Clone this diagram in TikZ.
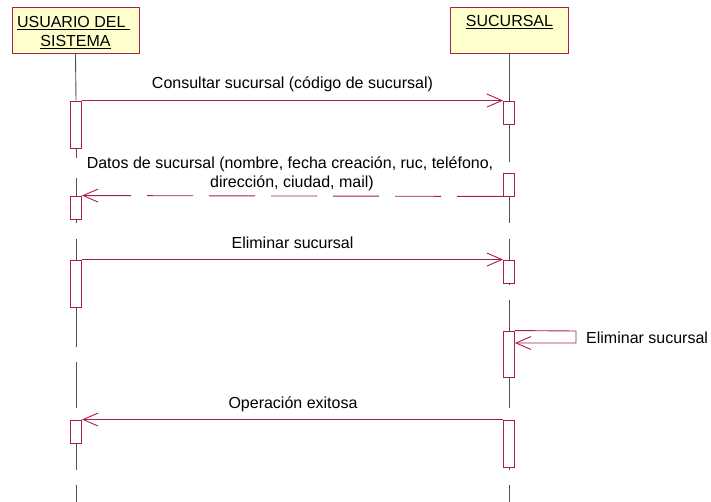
\documentclass[tikz,border=0pt]{standalone}
\usepackage{fontspec}
\setmainfont{Liberation Sans}
\usetikzlibrary{arrows.meta}
\definecolor{umlline}{RGB}{168,32,72}
\definecolor{umlbox}{RGB}{255,255,204}
\definecolor{lifegray}{RGB}{80,80,80}
\begin{document}
\begin{tikzpicture}[x=1pt,y=-1pt,
  every node/.style={font=\fontsize{16}{18.5}\selectfont},
  objbox/.style={draw=umlline, fill=umlbox, line width=0.9pt, inner sep=0pt, minimum height=46pt},
  act/.style={draw=umlline, fill=white, line width=0.9pt, inner sep=0pt, minimum width=11pt},
  msg/.style={draw=umlline, line width=0.9pt, -{Straight Barb[length=15pt,width=13pt]}},
  reply/.style={msg, dash pattern=on 46pt off 16pt},
  life/.style={draw=lifegray, line width=0.9pt},
  lbl/.style={anchor=base, inner sep=0pt, text=black}]
\useasboundingbox (0,0) rectangle (711,502);

% object heads
\node[objbox, minimum width=127pt] (u) at (75.5,30) {};
\node[objbox, minimum width=118pt] (s) at (509,30) {};
\node[lbl] (ut1) at (73.5,28) {\underline{USUARIO DEL\ }};
\node[lbl] (ut2) at (75.5,46.7) {\underline{SISTEMA}};
\node[lbl] (st) at (509.5,27) {\underline{SUCURSAL}};

% activation bars
\node[act, minimum height=47pt] (a1) at (76,124.5) {};
\node[act, minimum height=23pt] (a2) at (76,207.5) {};
\node[act, minimum height=47pt] (a3) at (76,283.5) {};
\node[act, minimum height=23pt] (a4) at (76,431.5) {};
\node[act, minimum height=23pt] (b1) at (509,112.5) {};
\node[act, minimum height=23pt] (b2) at (509,184.5) {};
\node[act, minimum height=23pt] (b3) at (509,271.5) {};
\node[act, minimum height=46pt] (b4) at (509,354) {};
\node[act, minimum height=47pt] (b5) at (509,443.5) {};

% lifelines
\draw[life] (u.south) -- (a1.north);
\draw[life] (a1.south) -- (76,158);
\draw[life] (76,178) -- (a2.north);
\draw[life] (a2.south) -- (76,223);
\draw[life] (76,239) -- (a3.north);
\draw[life] (a3.south) -- (76,347);
\draw[life] (76,362) -- (76,408);
\draw[life] (a4.south) -- (76,470);
\draw[life] (76,485) -- (76,502);
\draw[life] (s.south) -- (b1.north);
\draw[life] (b1.south) -- (509,162);
\draw[life] (b2.south) -- (509,223);
\draw[life] (509,239) -- (b3.north);
\draw[life] (b3.south) -- (509,285);
\draw[life] (509,300) -- (b4.north);
\draw[life] (b4.south) -- (509,408);
\draw[life] (b5.south) -- (509,470);
\draw[life] (509,485) -- (509,502);

% messages
\draw[msg] (a1.north east) -- (b1.north west);
\draw[reply] (b2.south west) -- (a2.north east);
\draw[msg] (a3.north east) -- (b3.north west);
\coordinate (r1) at (576,331);
\coordinate (r2) at (576,343);
\draw[msg] (b4.north east) -- (r1) -- (r2) -- (b4.east |- r2);
\draw[msg] (b5.north west) -- (a4.north east);

% message labels
\node[lbl] (l1) at (292.5,89) {Consultar sucursal (código de sucursal)};
\node[lbl] (l2a) at (290,169) {Datos de sucursal (nombre, fecha creación, ruc, teléfono,};
\node[lbl] (l2b) at (292,188) {dirección, ciudad, mail)};
\node[lbl] (l3) at (292.5,249) {Eliminar sucursal};
\node[lbl, anchor=base west] (l4) at (586,343) {Eliminar sucursal};
\node[lbl] (l5) at (293,408) {Operación exitosa};
\end{tikzpicture}
\end{document}
